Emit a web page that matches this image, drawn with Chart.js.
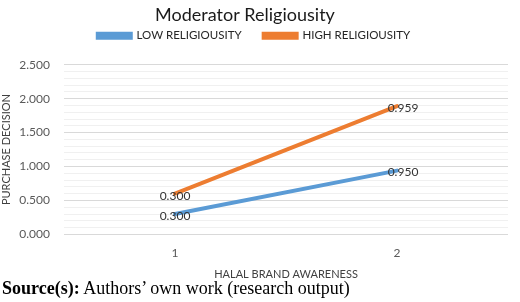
<!DOCTYPE html>
<html>
<head>
<meta charset="utf-8">
<script src="https://cdn.jsdelivr.net/npm/chart.js@4/dist/chart.umd.min.js"></script>
<style>
  html, body { margin: 0; padding: 0; background: #fff; }
  #wrap { position: relative; width: 520px; height: 302px; }
  #chart-box { position: absolute; left: 0; top: 0; width: 520px; height: 281px; }
  #source {
    position: absolute; left: 2px; top: 278px;
    font-family: "Liberation Serif", "Times New Roman", serif;
    font-size: 18px; color: #000; white-space: nowrap;
  }
</style>
</head>
<body>
<div id="wrap">
  <div id="chart-box"><canvas id="chart"></canvas></div>
  <div id="source"><b>Source(s):</b> Authors’ own work (research output)</div>
</div>
<script>
// 資料
const categories = ['1', '2'];
const lowValues = [0.30, 0.94];
const highValues = [0.60, 1.89];
const lowLabels = ['0.300', '0.950'];
const highLabels = ['0.300', '0.959'];
const chartTitle = 'Moderator Religiousity';

const BLUE = '#5b9bd5';
const ORANGE = '#ed7d31';
const FONT = 'Lato, "Noto Sans", sans-serif';

// 標題畫在偏左的位置 (跟原圖一樣)
const titlePlugin = {
  id: 'leftTitle',
  afterDraw(chart) {
    const ctx = chart.ctx;
    ctx.save();
    ctx.font = '18px ' + FONT;
    ctx.fillStyle = '#1a1a1a';
    ctx.textAlign = 'center';
    ctx.textBaseline = 'middle';
    ctx.fillText(chartTitle, 245, 15);
    ctx.restore();
  }
};

// 資料標籤
const labelPlugin = {
  id: 'pointLabels',
  afterDatasetsDraw(chart) {
    const ctx = chart.ctx;
    ctx.save();
    ctx.font = '12px ' + FONT;
    ctx.fillStyle = '#333';
    ctx.textAlign = 'center';
    ctx.textBaseline = 'middle';
    chart.data.datasets.forEach((ds, di) => {
      const meta = chart.getDatasetMeta(di);
      meta.data.forEach((pt, i) => {
        const dx = i === 0 ? 0 : 6;
        ctx.fillText(ds.pointText[i], pt.x + dx, pt.y + 2);
      });
    });
    ctx.restore();
  }
};

const isMajor = v => Math.round(v * 10) % 5 === 0;

new Chart(document.getElementById('chart'), {
  type: 'line',
  data: {
    labels: categories,
    datasets: [
      {
        label: 'LOW RELIGIOUSITY',
        data: lowValues,
        pointText: lowLabels,
        borderColor: BLUE,
        backgroundColor: BLUE,
        borderWidth: 4,
        borderCapStyle: 'round',
        pointRadius: 0,
        tension: 0
      },
      {
        label: 'HIGH RELIGIOUSITY',
        data: highValues,
        pointText: highLabels,
        borderColor: ORANGE,
        backgroundColor: ORANGE,
        borderWidth: 4,
        borderCapStyle: 'round',
        pointRadius: 0,
        tension: 0
      }
    ]
  },
  options: {
    responsive: true,
    maintainAspectRatio: false,
    animation: false,
    layout: { padding: { top: 8, right: 12, bottom: 0, left: 0 } },
    plugins: {
      title: { display: false },
      // 圖例下方的空白
      subtitle: {
        display: true,
        text: '',
        position: 'top',
        weight: 500,
        font: { size: 1 },
        padding: { top: 0, bottom: 12 }
      },
      tooltip: { enabled: false },
      legend: {
        display: true,
        position: 'top',
        labels: {
          boxWidth: 33,
          boxHeight: 4,
          padding: 22,
          color: '#262626',
          font: { family: FONT, size: 11.5 }
        }
      }
    },
    scales: {
      x: {
        offset: true,
        grid: { display: false, drawTicks: false },
        border: { display: false },
        ticks: { color: '#595959', padding: 12, font: { family: FONT, size: 12 } },
        title: {
          display: true,
          text: 'HALAL BRAND AWARENESS',
          color: '#404040',
          padding: { top: -5, bottom: 0 },
          font: { family: FONT, size: 11 }
        }
      },
      y: {
        min: 0,
        max: 2.5,
        afterFit(scale) { scale.width = 64; },
        border: { display: false },
        grid: {
          drawTicks: false,
          color: ctx => isMajor(ctx.tick.value) ? '#d9d9d9' : '#f0f0f0',
          lineWidth: 1
        },
        ticks: {
          stepSize: 0.1,
          autoSkip: false,
          padding: 14,
          color: '#595959',
          font: { family: FONT, size: 12 },
          callback: v => isMajor(v) ? v.toFixed(3) : ''
        },
        title: {
          display: true,
          text: 'PURCHASE DECISION',
          color: '#404040',
          padding: 0,
          font: { family: FONT, size: 11 }
        }
      }
    }
  },
  plugins: [titlePlugin, labelPlugin]
});
</script>
</body>
</html>
